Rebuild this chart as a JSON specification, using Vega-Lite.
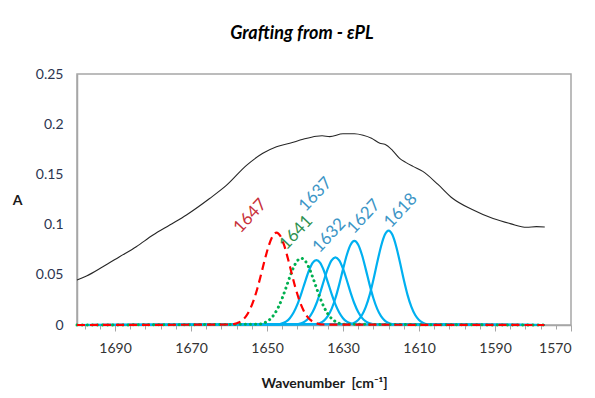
{
  "$schema": "https://vega.github.io/schema/vega-lite/v6.json",
  "width": 494,
  "height": 251,
  "autosize": {"type": "none"},
  "padding": {"left": 77, "top": 74, "right": 24, "bottom": 73},
  "background": "white",
  "config": {
    "font": "Lato",
    "view": {"stroke": "#a6a6a6", "strokeWidth": 1.5},
    "axis": {"grid": false, "domainColor": "#a6a6a6", "domainWidth": 1.5, "tickColor": "#a6a6a6", "labelFont": "Lato", "titleFont": "Lato"}
  },
  "title": {
    "text": "Grafting from - εPL",
    "font": "Lato",
    "fontSize": 18,
    "fontWeight": "bold",
    "fontStyle": "italic",
    "color": "#000000",
    "anchor": "middle",
    "dx": -22,
    "offset": 10,
    "baseline": "alphabetic"
  },
  "resolve": {"axis": {"x": "independent"}},
  "datasets": {
    "obs": [
      {"wn": 1700, "A": 0.0448}, {"wn": 1697.5, "A": 0.0488}, {"wn": 1693.2, "A": 0.058},
      {"wn": 1688.8, "A": 0.068}, {"wn": 1684.4, "A": 0.078}, {"wn": 1680, "A": 0.0896},
      {"wn": 1675.6, "A": 0.0996}, {"wn": 1671.2, "A": 0.1096}, {"wn": 1665.1, "A": 0.126},
      {"wn": 1660.7, "A": 0.139}, {"wn": 1655.4, "A": 0.159}, {"wn": 1651.1, "A": 0.171},
      {"wn": 1647.5, "A": 0.1776}, {"wn": 1644, "A": 0.181}, {"wn": 1640.5, "A": 0.185},
      {"wn": 1637, "A": 0.188}, {"wn": 1635.5, "A": 0.1885}, {"wn": 1633.5, "A": 0.1876},
      {"wn": 1630, "A": 0.1905}, {"wn": 1627, "A": 0.1905}, {"wn": 1624.7, "A": 0.189},
      {"wn": 1622.5, "A": 0.186}, {"wn": 1620.3, "A": 0.181}, {"wn": 1619, "A": 0.18},
      {"wn": 1617, "A": 0.174}, {"wn": 1615.1, "A": 0.166}, {"wn": 1613.5, "A": 0.162},
      {"wn": 1611.6, "A": 0.158}, {"wn": 1609, "A": 0.153}, {"wn": 1605, "A": 0.14},
      {"wn": 1601.1, "A": 0.126}, {"wn": 1596, "A": 0.115}, {"wn": 1590.5, "A": 0.106},
      {"wn": 1586, "A": 0.101}, {"wn": 1581.7, "A": 0.0973}, {"wn": 1579.1, "A": 0.098},
      {"wn": 1576.9, "A": 0.0976}
    ],
    "red": [
      {"wn": 1700, "A": 0}, {"wn": 1659.5, "A": 0.0005}, {"wn": 1658.5, "A": 0.0011},
      {"wn": 1657.5, "A": 0.0024}, {"wn": 1656.5, "A": 0.0048}, {"wn": 1655.5, "A": 0.0089},
      {"wn": 1654.5, "A": 0.0154}, {"wn": 1653.5, "A": 0.0247}, {"wn": 1652.5, "A": 0.0369},
      {"wn": 1651.5, "A": 0.0513}, {"wn": 1650.5, "A": 0.0662}, {"wn": 1649.5, "A": 0.0795},
      {"wn": 1648.5, "A": 0.0887}, {"wn": 1647.5, "A": 0.092}, {"wn": 1646.5, "A": 0.0887},
      {"wn": 1645.5, "A": 0.0795}, {"wn": 1644.5, "A": 0.0662}, {"wn": 1643.5, "A": 0.0513},
      {"wn": 1642.5, "A": 0.0369}, {"wn": 1641.5, "A": 0.0247}, {"wn": 1640.5, "A": 0.0154},
      {"wn": 1639.5, "A": 0.0089}, {"wn": 1638.5, "A": 0.0048}, {"wn": 1637.5, "A": 0.0024},
      {"wn": 1636.5, "A": 0.0011}, {"wn": 1635.5, "A": 0.0005}, {"wn": 1577, "A": 0}
    ],
    "green": [
      {"wn": 1700, "A": 0}, {"wn": 1652, "A": 0.0008}, {"wn": 1651, "A": 0.0017},
      {"wn": 1650, "A": 0.0035}, {"wn": 1649, "A": 0.0064}, {"wn": 1648, "A": 0.0111},
      {"wn": 1647, "A": 0.0179}, {"wn": 1646, "A": 0.0267}, {"wn": 1645, "A": 0.0371},
      {"wn": 1644, "A": 0.0479}, {"wn": 1643, "A": 0.0575}, {"wn": 1642, "A": 0.0641},
      {"wn": 1641, "A": 0.0665}, {"wn": 1640, "A": 0.0641}, {"wn": 1639, "A": 0.0575},
      {"wn": 1638, "A": 0.0479}, {"wn": 1637, "A": 0.0371}, {"wn": 1636, "A": 0.0267},
      {"wn": 1635, "A": 0.0179}, {"wn": 1634, "A": 0.0111}, {"wn": 1633, "A": 0.0064},
      {"wn": 1632, "A": 0.0035}, {"wn": 1631, "A": 0.0017}, {"wn": 1630, "A": 0.0008},
      {"wn": 1577, "A": 0}
    ],
    "blue": [
      {"s": "1637", "wn": 1700, "A": 0}, {"s": "1637", "wn": 1647, "A": 0.0007}, {"s": "1637", "wn": 1646, "A": 0.0016},
      {"s": "1637", "wn": 1645, "A": 0.0034}, {"s": "1637", "wn": 1644, "A": 0.0068}, {"s": "1637", "wn": 1643, "A": 0.0124},
      {"s": "1637", "wn": 1642, "A": 0.0205}, {"s": "1637", "wn": 1641, "A": 0.031}, {"s": "1637", "wn": 1640, "A": 0.0428},
      {"s": "1637", "wn": 1639, "A": 0.0538}, {"s": "1637", "wn": 1638, "A": 0.0618}, {"s": "1637", "wn": 1637, "A": 0.0647},
      {"s": "1637", "wn": 1636, "A": 0.0618}, {"s": "1637", "wn": 1635, "A": 0.0538}, {"s": "1637", "wn": 1634, "A": 0.0428},
      {"s": "1637", "wn": 1633, "A": 0.031}, {"s": "1637", "wn": 1632, "A": 0.0205}, {"s": "1637", "wn": 1631, "A": 0.0124},
      {"s": "1637", "wn": 1630, "A": 0.0068}, {"s": "1637", "wn": 1629, "A": 0.0034}, {"s": "1637", "wn": 1628, "A": 0.0016},
      {"s": "1637", "wn": 1627, "A": 0.0007}, {"s": "1637", "wn": 1577, "A": 0},

      {"s": "1632", "wn": 1700, "A": 0}, {"s": "1632", "wn": 1642, "A": 0.0007}, {"s": "1632", "wn": 1641, "A": 0.0016},
      {"s": "1632", "wn": 1640, "A": 0.0036}, {"s": "1632", "wn": 1639, "A": 0.0071}, {"s": "1632", "wn": 1638, "A": 0.0129},
      {"s": "1632", "wn": 1637, "A": 0.0214}, {"s": "1632", "wn": 1636, "A": 0.0323}, {"s": "1632", "wn": 1635, "A": 0.0446},
      {"s": "1632", "wn": 1634, "A": 0.0561}, {"s": "1632", "wn": 1633, "A": 0.0644}, {"s": "1632", "wn": 1632, "A": 0.0674},
      {"s": "1632", "wn": 1631, "A": 0.0644}, {"s": "1632", "wn": 1630, "A": 0.0561}, {"s": "1632", "wn": 1629, "A": 0.0446},
      {"s": "1632", "wn": 1628, "A": 0.0323}, {"s": "1632", "wn": 1627, "A": 0.0214}, {"s": "1632", "wn": 1626, "A": 0.0129},
      {"s": "1632", "wn": 1625, "A": 0.0071}, {"s": "1632", "wn": 1624, "A": 0.0036}, {"s": "1632", "wn": 1623, "A": 0.0016},
      {"s": "1632", "wn": 1622, "A": 0.0007}, {"s": "1632", "wn": 1577, "A": 0},

      {"s": "1627", "wn": 1700, "A": 0}, {"s": "1627", "wn": 1637, "A": 0.0008}, {"s": "1627", "wn": 1636, "A": 0.002},
      {"s": "1627", "wn": 1635, "A": 0.0044}, {"s": "1627", "wn": 1634, "A": 0.0088}, {"s": "1627", "wn": 1633, "A": 0.016},
      {"s": "1627", "wn": 1632, "A": 0.0266}, {"s": "1627", "wn": 1631, "A": 0.0402}, {"s": "1627", "wn": 1630, "A": 0.0554},
      {"s": "1627", "wn": 1629, "A": 0.0697}, {"s": "1627", "wn": 1628, "A": 0.0799}, {"s": "1627", "wn": 1627, "A": 0.0837},
      {"s": "1627", "wn": 1626, "A": 0.0799}, {"s": "1627", "wn": 1625, "A": 0.0697}, {"s": "1627", "wn": 1624, "A": 0.0554},
      {"s": "1627", "wn": 1623, "A": 0.0402}, {"s": "1627", "wn": 1622, "A": 0.0266}, {"s": "1627", "wn": 1621, "A": 0.016},
      {"s": "1627", "wn": 1620, "A": 0.0088}, {"s": "1627", "wn": 1619, "A": 0.0044}, {"s": "1627", "wn": 1618, "A": 0.002},
      {"s": "1627", "wn": 1617, "A": 0.0008}, {"s": "1627", "wn": 1577, "A": 0},

      {"s": "1618", "wn": 1700, "A": 0}, {"s": "1618", "wn": 1628, "A": 0.0009}, {"s": "1618", "wn": 1627, "A": 0.0023},
      {"s": "1618", "wn": 1626, "A": 0.005}, {"s": "1618", "wn": 1625, "A": 0.0099}, {"s": "1618", "wn": 1624, "A": 0.018},
      {"s": "1618", "wn": 1623, "A": 0.0298}, {"s": "1618", "wn": 1622, "A": 0.0451}, {"s": "1618", "wn": 1621, "A": 0.0622},
      {"s": "1618", "wn": 1620, "A": 0.0782}, {"s": "1618", "wn": 1619, "A": 0.0898}, {"s": "1618", "wn": 1618, "A": 0.094},
      {"s": "1618", "wn": 1617, "A": 0.0898}, {"s": "1618", "wn": 1616, "A": 0.0782}, {"s": "1618", "wn": 1615, "A": 0.0622},
      {"s": "1618", "wn": 1614, "A": 0.0451}, {"s": "1618", "wn": 1613, "A": 0.0298}, {"s": "1618", "wn": 1612, "A": 0.018},
      {"s": "1618", "wn": 1611, "A": 0.0099}, {"s": "1618", "wn": 1610, "A": 0.005}, {"s": "1618", "wn": 1609, "A": 0.0023},
      {"s": "1618", "wn": 1608, "A": 0.0009}, {"s": "1618", "wn": 1577, "A": 0}
    ],
    "labels": [
      {"label": "1647", "wn": 1654.4, "A": 0.1086},
      {"label": "1641", "wn": 1642.3, "A": 0.092},
      {"label": "1637", "wn": 1637.2, "A": 0.13},
      {"label": "1632", "wn": 1633.6, "A": 0.089},
      {"label": "1627", "wn": 1624.5, "A": 0.108},
      {"label": "1618", "wn": 1614.8, "A": 0.114}
    ]
  },
  "layer": [
    {
      "data": {"name": "obs"},
      "mark": {"type": "line", "color": "#262626", "strokeWidth": 1.1, "interpolate": "monotone"},
      "encoding": {
        "x": {
          "field": "wn", "type": "quantitative",
          "scale": {"domain": [1570, 1700], "reverse": true, "nice": false, "zero": false},
          "axis": {
            "orient": "bottom",
            "values": [1570, 1590, 1610, 1630, 1650, 1670, 1690],
            "format": "d",
            "tickSize": 6,
            "labelPadding": 10,
            "labelFontSize": 14,
            "labelColor": "#333333",
            "labelOverlap": false,
            "title": "Wavenumber\u00a0 [cm⁻¹]",
            "titleFontSize": 14,
            "titleFontWeight": "bold",
            "titleColor": "#1a1a1a",
            "titleY": 58,
            "titleBaseline": "middle"
          }
        },
        "y": {
          "field": "A", "type": "quantitative",
          "scale": {"domain": [0, 0.25], "nice": false},
          "axis": {
            "values": [0, 0.05, 0.1, 0.15, 0.2, 0.25],
            "format": "~g",
            "ticks": false,
            "labelPadding": 14,
            "labelFontSize": 14,
            "labelColor": "#2b3550",
            "title": "A",
            "titleAngle": 0,
            "titleFontSize": 14,
            "titleFontWeight": "bold",
            "titleColor": "#1a1a1a",
            "titleX": -60,
            "titleY": 126,
            "titleAlign": "center",
            "titleBaseline": "middle"
          }
        }
      }
    },
    {
      "data": {"name": "blue"},
      "mark": {"type": "line", "color": "#00B0F0", "strokeWidth": 2.2, "interpolate": "monotone"},
      "encoding": {
        "x": {
          "field": "wn", "type": "quantitative",
          "axis": {
            "orient": "bottom",
            "values": [1574, 1578, 1582, 1586, 1594, 1598, 1602, 1606, 1614, 1618, 1622, 1626, 1634, 1638, 1642, 1646, 1654, 1658, 1662, 1666, 1674, 1678, 1682, 1686, 1694, 1698],
            "labels": false,
            "domain": false,
            "tickSize": 4,
            "title": null
          }
        },
        "y": {"field": "A", "type": "quantitative"},
        "detail": {"field": "s", "type": "nominal"}
      }
    },
    {
      "data": {"name": "green"},
      "mark": {"type": "line", "color": "#00B050", "strokeWidth": 3, "strokeDash": [0.1, 5], "strokeCap": "round", "interpolate": "monotone"},
      "encoding": {
        "x": {"field": "wn", "type": "quantitative", "axis": null},
        "y": {"field": "A", "type": "quantitative"}
      }
    },
    {
      "data": {"name": "red"},
      "mark": {"type": "line", "color": "#FF0000", "strokeWidth": 2.2, "strokeDash": [8, 5], "interpolate": "monotone"},
      "encoding": {
        "x": {"field": "wn", "type": "quantitative", "axis": null},
        "y": {"field": "A", "type": "quantitative"}
      }
    },
    {
      "data": {"name": "labels"},
      "mark": {"type": "text", "angle": -47, "fontSize": 17, "font": "Lato", "align": "center", "baseline": "middle"},
      "encoding": {
        "x": {"field": "wn", "type": "quantitative", "axis": null},
        "y": {"field": "A", "type": "quantitative"},
        "text": {"field": "label"},
        "color": {
          "field": "label", "type": "nominal",
          "scale": {"domain": ["1647", "1641", "1637", "1632", "1627", "1618"], "range": ["#C8303A", "#2E9150", "#3C95C6", "#3C95C6", "#3C95C6", "#3C95C6"]},
          "legend": null
        }
      }
    }
  ]
}
